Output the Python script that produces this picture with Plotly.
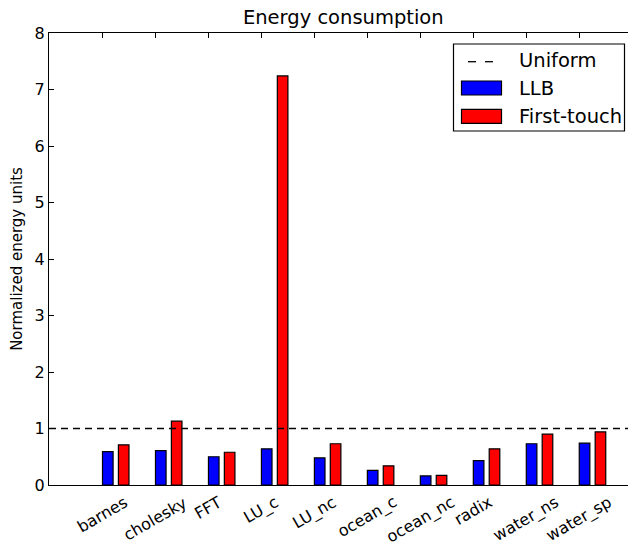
import plotly.graph_objects as go

# Benchmarks and normalized energy per placement policy
categories = ["barnes", "cholesky", "FFT", "LU_c", "LU_nc",
              "ocean_c", "ocean_nc", "radix", "water_ns", "water_sp"]
llb = [0.59, 0.61, 0.50, 0.64, 0.48, 0.26, 0.16, 0.43, 0.73, 0.74]
first_touch = [0.71, 1.13, 0.58, 7.24, 0.73, 0.34, 0.17, 0.64, 0.90, 0.94]
uniform_level = 1.0
y_ticks = [0, 1, 2, 3, 4, 5, 6, 7, 8]

W, H = 628, 542
ML, MR, MT, MB = 49, 0, 33, 57
FONT = "DejaVu Sans"

idx = list(range(len(categories)))

fig = go.Figure()
fig.add_trace(go.Bar(x=idx, y=llb, name="LLB", width=0.2, offset=0.0,
                     marker=dict(color="#0000ff", line=dict(color="black", width=1.2)),
                     showlegend=False))
fig.add_trace(go.Bar(x=idx, y=first_touch, name="First-touch", width=0.2, offset=0.3,
                     marker=dict(color="#ff0000", line=dict(color="black", width=1.2)),
                     showlegend=False))

# Uniform reference level across the whole axis
fig.add_shape(type="line", xref="paper", yref="y", x0=0, x1=1,
              y0=uniform_level, y1=uniform_level,
              line=dict(color="black", width=1.3, dash="7px,5px"))

pw = W - ML - MR
ph = H - MT - MB


def px(xp):
    return (xp - ML) / pw


def py(yp):
    return (H - MB - yp) / ph


# Legend drawn by hand: framed box, dashed sample and filled patches
fig.add_shape(type="rect", xref="paper", yref="paper",
              x0=px(453.5), x1=px(624.5), y0=py(131), y1=py(44),
              line=dict(color="black", width=1.2), fillcolor="white")
for a, b in [(468, 476), (485, 493)]:
    fig.add_shape(type="line", xref="paper", yref="paper",
                  x0=px(a), x1=px(b), y0=py(61.7), y1=py(61.7),
                  line=dict(color="black", width=1.3))
for (top, bot), col in [((81, 95), "#0000ff"), ((109.3, 123.3), "#ff0000")]:
    fig.add_shape(type="rect", xref="paper", yref="paper",
                  x0=px(461.5), x1=px(501.5), y0=py(bot), y1=py(top),
                  line=dict(color="black", width=1.2), fillcolor=col)
for label, yc in [("Uniform", 60.7), ("LLB", 88), ("First-touch", 116.7)]:
    fig.add_annotation(text=label, xref="paper", yref="paper",
                       x=px(517), y=py(yc), xanchor="left", yanchor="middle",
                       showarrow=False, font=dict(family=FONT, size=19.5, color="black"))

# Rotated category labels centred under each tick
for i, name in zip(idx, categories):
    fig.add_annotation(text=name, x=i, y=0, xref="x", yref="y",
                       xanchor="center", yanchor="top", yshift=-6, borderpad=0,
                       textangle=-30, showarrow=False,
                       font=dict(family=FONT, size=16, color="black"))

fig.update_layout(
    width=W, height=H,
    margin=dict(l=ML, r=MR, t=MT, b=MB, pad=0),
    paper_bgcolor="white", plot_bgcolor="white",
    barmode="overlay",
    font=dict(family=FONT, size=16, color="black"),
    title=dict(text="Energy consumption", x=343.3 / W, xref="container", xanchor="center",
               y=1 - 17 / H, yref="container", yanchor="middle",
               font=dict(family=FONT, size=19.5, color="black")),
    xaxis=dict(range=[-1.01, 9.92], tickvals=idx, showticklabels=False,
               ticks="inside", ticklen=5, tickcolor="black", tickwidth=1,
               showline=True, linecolor="black", linewidth=1.2, mirror="ticks",
               showgrid=False, zeroline=False),
    yaxis=dict(range=[0, 8], tickvals=y_ticks, ticks="inside", ticklen=5,
               tickcolor="black", tickwidth=1,
               showline=True, linecolor="black", linewidth=1.2, mirror=False,
               showgrid=False, zeroline=False,
               tickfont=dict(family=FONT, size=16, color="black"),
               title=dict(text="Normalized energy units", standoff=8,
                          font=dict(family=FONT, size=15, color="black"))),
)

fig.write_html("out.html")
